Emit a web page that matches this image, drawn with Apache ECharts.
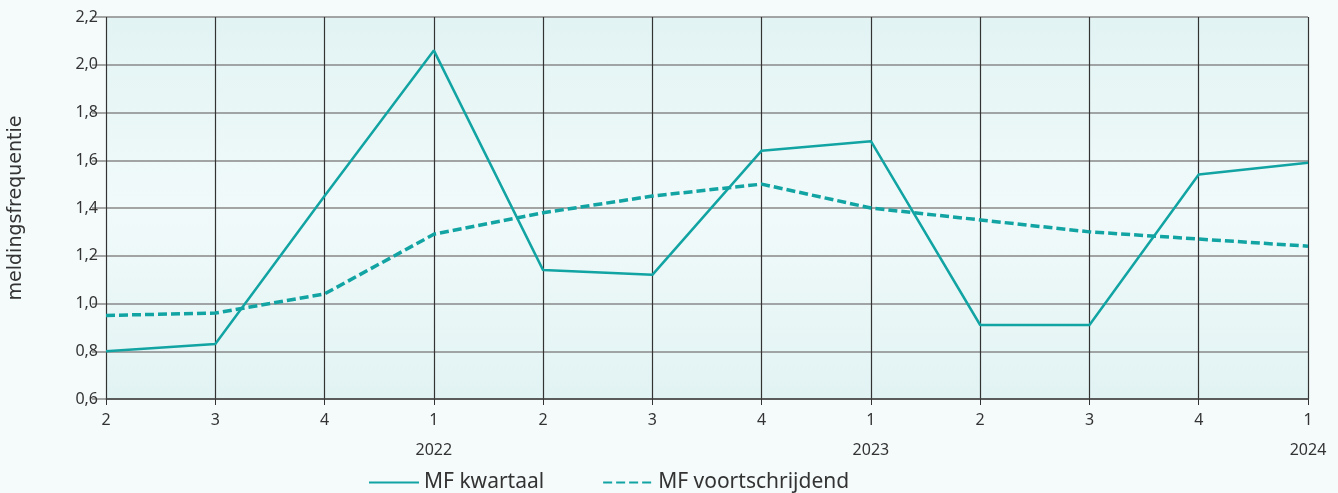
<!DOCTYPE html>
<html>
<head>
<meta charset="utf-8">
<script src="https://cdn.jsdelivr.net/npm/echarts@6/dist/echarts.min.js"></script>
<style>
  html, body { margin: 0; padding: 0; background: #f5fbfb; }
  #chart { width: 1338px; height: 493px; }
</style>
</head>
<body>
<div id="chart"></div>
<script>
var kwartalen = ['2', '3', '4', '1', '2', '3', '4', '1', '2', '3', '4', '1'];
var jaren = ['', '', '', '2022', '', '', '', '2023', '', '', '', '2024'];
var mfKwartaal = [0.80, 0.83, 1.45, 2.06, 1.14, 1.12, 1.64, 1.68, 0.91, 0.91, 1.54, 1.59];
var mfVoortschrijdend = [0.95, 0.96, 1.04, 1.29, 1.38, 1.45, 1.50, 1.40, 1.35, 1.30, 1.27, 1.24];

var teal = '#12a3a3';
var font = 'Noto Sans';

var chart = echarts.init(document.getElementById('chart'));

var categories = kwartalen.map(function (q, i) {
    return jaren[i] ? q + '\n' + jaren[i] : q;
});

var option = {
    backgroundColor: '#f5fbfb',
    textStyle: { fontFamily: font },
    grid: {
        left: 106,
        right: 30,
        top: 17,
        bottom: 94,
        outerBoundsMode: 'none',
        containLabel: false,
        show: true,
        borderWidth: 0,
        backgroundColor: new echarts.graphic.LinearGradient(0, 0, 0, 1, [
            { offset: 0, color: '#e2f3f3' },
            { offset: 0.5, color: '#f1fafa' },
            { offset: 1, color: '#e2f3f3' }
        ])
    },
    legend: {
        top: 467,
        left: 363,
        itemWidth: 50,
        itemHeight: 14,
        itemGap: 58,
        itemStyle: { opacity: 0 },
        textStyle: { fontSize: 21, color: '#333', fontFamily: font },
        data: ['MF kwartaal', 'MF voortschrijdend']
    },
    xAxis: {
        type: 'category',
        boundaryGap: false,
        data: categories,
        axisLine: { lineStyle: { color: '#444', width: 1.5 } },
        axisTick: { show: true, length: 6, lineStyle: { color: '#333' } },
        axisLabel: { color: '#333', fontSize: 16, lineHeight: 30, margin: 6, fontFamily: font },
        splitLine: { show: true, lineStyle: { color: '#333', width: 1.2 } }
    },
    yAxis: {
        type: 'value',
        min: 0.6,
        max: 2.2,
        interval: 0.2,
        name: 'meldingsfrequentie',
        nameLocation: 'middle',
        nameGap: 80,
        nameTextStyle: { fontSize: 19, color: '#333', fontFamily: 'DejaVu Sans' },
        axisLine: { show: false },
        axisTick: { show: true, length: 14, lineStyle: { color: '#888', width: 1.5 } },
        axisLabel: {
            color: '#333',
            fontSize: 16,
            margin: 8,
            fontFamily: font,
            formatter: function (v) { return v.toFixed(1).replace('.', ','); }
        },
        splitLine: { show: true, lineStyle: { color: '#888', width: 1.5 } }
    },
    series: [{
        name: 'MF kwartaal',
        type: 'line',
        symbol: 'none',
        data: mfKwartaal,
        lineStyle: { color: teal, width: 2.5 },
        itemStyle: { color: teal },
        z: 3
    }, {
        name: 'MF voortschrijdend',
        type: 'line',
        symbol: 'none',
        data: mfVoortschrijdend,
        lineStyle: { color: teal, width: 3.5, type: [9, 4] },
        itemStyle: { color: teal },
        z: 2
    }]
};
chart.setOption(option);
</script>
</body>
</html>
